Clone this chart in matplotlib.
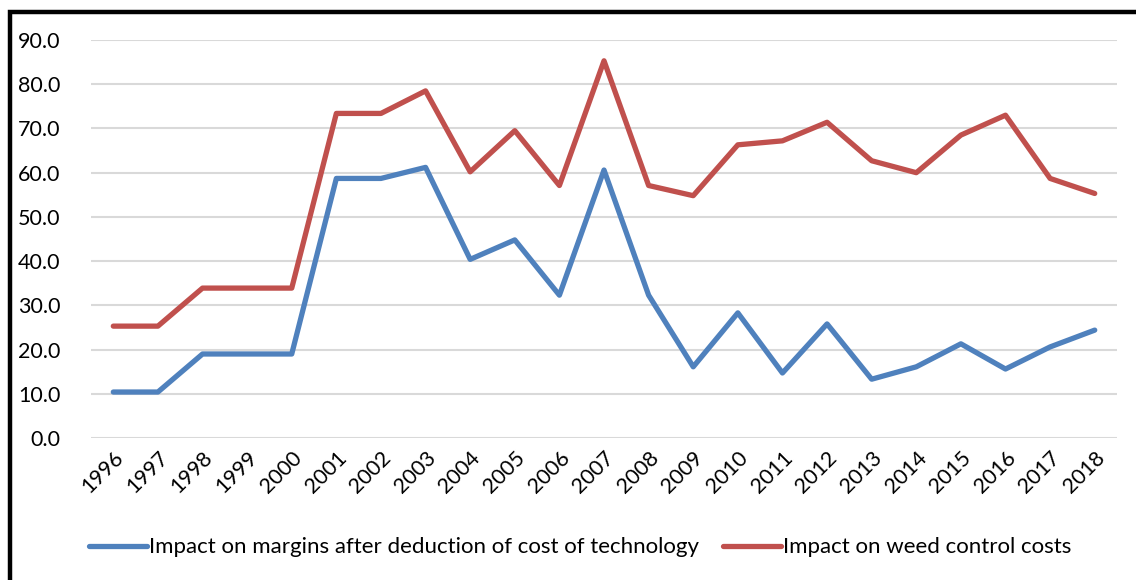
import matplotlib.pyplot as plt
import matplotlib.patches as patches

years = [str(y) for y in range(1996, 2019)]
margins = [10.4, 10.4, 19.0, 19.0, 19.0, 58.7, 58.7, 61.2, 40.4, 44.8, 32.3, 60.6,
           32.3, 16.1, 28.3, 14.7, 25.8, 13.3, 16.1, 21.3, 15.6, 20.6, 24.4]
weed = [25.3, 25.3, 33.9, 33.9, 33.9, 73.4, 73.4, 78.5, 60.2, 69.5, 57.1, 85.3,
        57.1, 54.8, 66.3, 67.2, 71.4, 62.7, 60.0, 68.5, 73.0, 58.7, 55.3]
yticks = [0, 10, 20, 30, 40, 50, 60, 70, 80, 90]

plt.rcParams['font.family'] = ['Lato', 'DejaVu Sans']

fig = plt.figure(figsize=(11.36, 5.8), dpi=100)
ax = fig.add_axes([0.0801, 0.2448, 0.9032, 0.6862])

x = range(len(years))
ax.plot(x, margins, color='#4F81BD', linewidth=3.8, solid_capstyle='round',
        label='Impact on margins after deduction of cost of technology')
ax.plot(x, weed, color='#C0504D', linewidth=3.8, solid_capstyle='round',
        label='Impact on weed control costs')

ax.set_xlim(-0.5, len(years) - 0.5)
ax.set_ylim(0, 90)
ax.set_yticks(yticks)
ax.set_yticklabels([f'{v:.1f}' for v in yticks], fontsize=15.5)
ax.set_xticks(list(x))
ax.set_xticklabels(years, rotation=45, ha='right', rotation_mode='anchor', fontsize=15.5)
ax.tick_params(axis='both', length=0)
ax.tick_params(axis='y', pad=22)
ax.tick_params(axis='x', pad=7)
ax.grid(axis='y', color='#D9D9D9', linewidth=1.5)
ax.set_axisbelow(True)
for s in ax.spines.values():
    s.set_visible(False)

ax.legend(loc='center', bbox_to_anchor=(0.477, -0.275), ncol=2, frameon=False,
          fontsize=16, handlelength=2.6, handletextpad=0.1, columnspacing=1.1)

# black frame, cut off at right and bottom like the reference
frame = patches.Rectangle((0.0088, -0.05), 1.1, 1.029, transform=fig.transFigure,
                          fill=False, edgecolor='black', linewidth=3.2)
fig.patches.append(frame)

fig.savefig('out.png', dpi=100)
